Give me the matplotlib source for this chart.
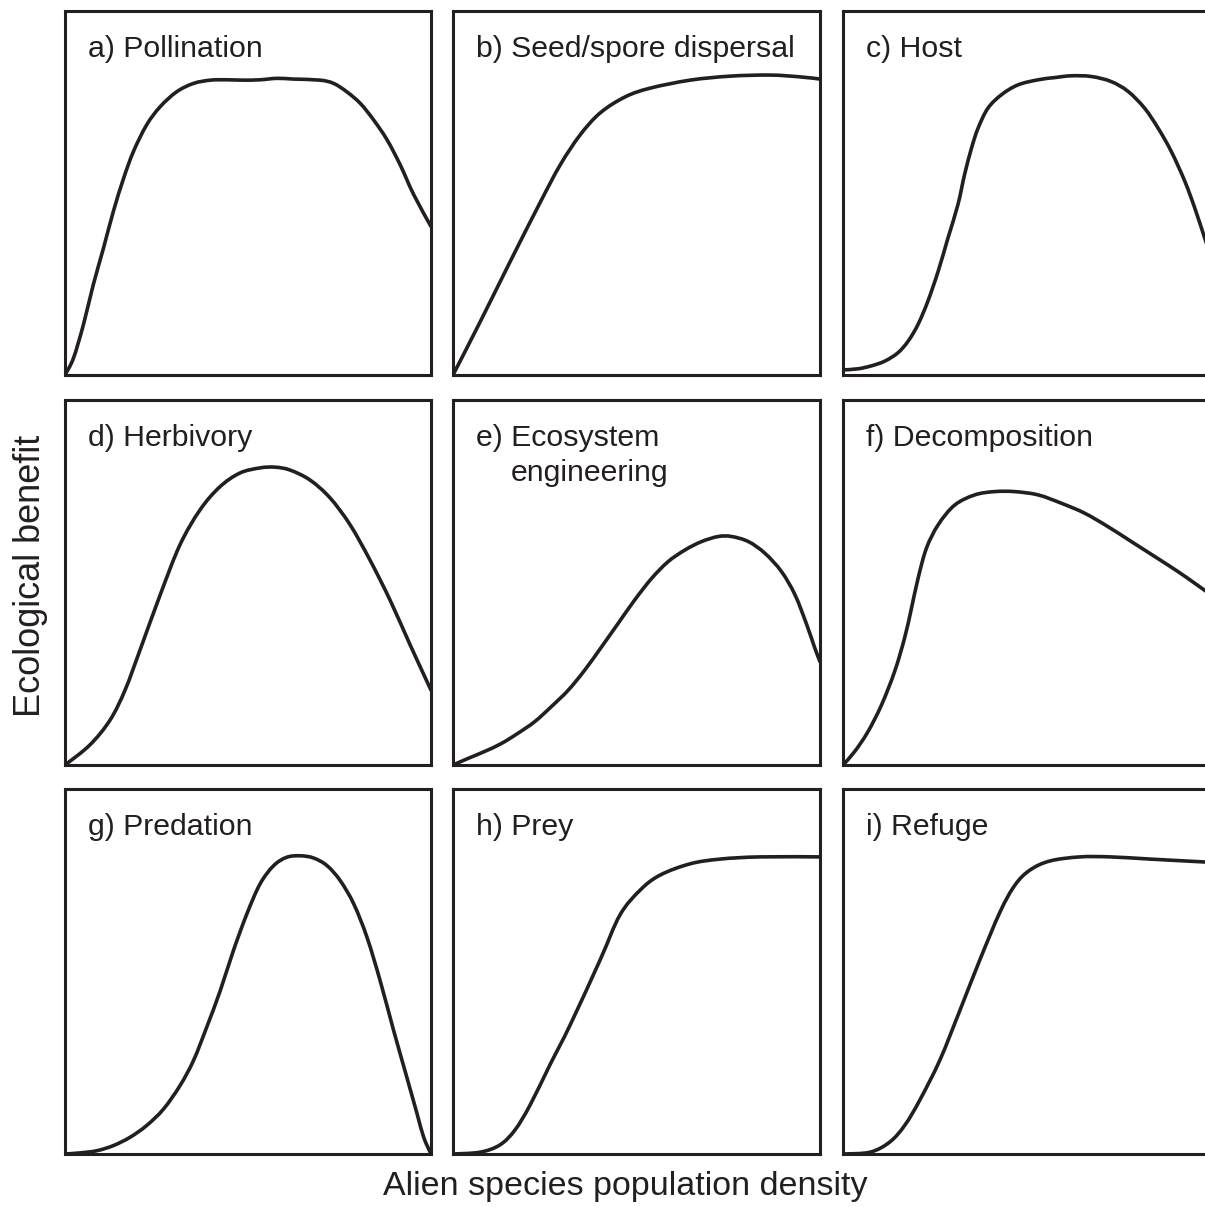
import matplotlib
matplotlib.use("Agg")
import matplotlib.pyplot as plt
from matplotlib.path import Path
from matplotlib.patches import PathPatch

plt.rcParams['font.family'] = ['Liberation Sans', 'DejaVu Sans']

INK = '#231f20'

# Panel titles (row-major order)
titles = ['a) Pollination', 'b) Seed/spore dispersal', 'c) Host',
          'd) Herbivory', 'e) Ecosystem', 'f) Decomposition',
          'g) Predation', 'h) Prey', 'i) Refuge']
subtitle_e = 'engineering'

x_label = 'Alien species population density'
y_label = 'Ecological benefit'

# Relative density (0-100) and relative benefit (0-100) for each response curve
a_x = [0, 2.3, 5.0, 7.7, 10.5, 13.2, 16.0, 18.7, 22.3, 26.0, 30.5, 35.1, 39.7, 44.2,
       48.8, 53.3, 57.9, 62.4, 69.7, 73.4, 77.0, 80.7, 84.3, 88.0, 91.6, 95.3, 100]
a_y = [0, 4.6, 13.7, 24.7, 34.8, 44.9, 54.0, 61.4, 68.7, 73.7, 77.8, 80.1, 81.0, 81.1,
       81.0, 81.1, 81.5, 81.3, 81.0, 80.1, 77.8, 74.6, 70.1, 64.6, 57.7, 49.5, 40.8]

b_x = [0, 7.4, 15.5, 23.7, 29.2, 34.6, 40.1, 46.9, 53.7, 64.6, 75.5, 86.4, 94.6, 100]
b_y = [0, 14.6, 31.0, 47.3, 57.7, 65.9, 72.0, 76.4, 78.8, 81.0, 82.1, 82.4, 81.9, 81.3]

c_x = [0, 4.1, 7.7, 11.4, 15.0, 17.8, 20.5, 23.2, 26.0, 28.7, 31.4, 33.2, 35.1, 36.9,
       39.6, 43.3, 47.8, 53.3, 57.8, 62.4, 67.9, 73.3, 77.9, 82.4, 86.1, 89.7, 93.4,
       96.1, 98.8, 100]
c_y = [1.4, 1.7, 2.5, 3.8, 6.1, 9.3, 13.9, 20.3, 28.5, 37.7, 46.8, 55.0, 62.3, 67.8,
       73.3, 77.0, 79.7, 81.1, 81.7, 82.2, 82.0, 80.6, 77.9, 73.3, 67.8, 61.4, 53.2,
       45.9, 37.7, 34.0]

d_x = [0, 6.8, 12.3, 16.4, 20.5, 26.0, 31.4, 36.9, 42.3, 47.8, 53.3, 57.4, 61.5,
       66.9, 72.4, 77.9, 83.3, 88.8, 94.3, 100]
d_y = [0, 5.5, 12.3, 20.5, 31.5, 46.6, 60.3, 69.9, 76.2, 80.0, 81.4, 81.6, 80.8,
       78.1, 73.2, 65.8, 56.2, 45.2, 32.9, 20.5]

e_x = [0, 4.1, 8.6, 13.2, 17.7, 22.3, 26.8, 31.4, 35.9, 40.5, 45.0, 49.5, 54.1, 58.6,
       63.2, 67.7, 72.3, 75.9, 80.5, 85.0, 89.5, 93.2, 96.4, 98.6, 100]
e_y = [0, 1.8, 3.7, 5.9, 8.7, 11.9, 16.0, 20.5, 26.0, 32.4, 38.8, 45.2, 51.1, 55.7,
       58.9, 61.2, 62.6, 62.6, 61.2, 58.0, 53.0, 46.6, 38.4, 32.0, 28.3]

f_x = [0, 3.2, 6.8, 10.5, 14.1, 16.8, 18.7, 20.5, 22.8, 26.0, 30.5, 36.0, 41.4, 46.9,
       53.3, 59.7, 66.0, 72.4, 78.8, 85.2, 91.5, 96.1, 100]
f_y = [0, 3.7, 9.1, 16.4, 25.6, 34.7, 42.9, 51.1, 59.4, 65.8, 71.2, 74.0, 74.9, 74.9,
       74.0, 71.7, 69.0, 65.3, 61.2, 57.1, 53.0, 49.8, 47.0]

g_x = [0, 4.1, 8.7, 13.2, 17.8, 22.3, 26.9, 31.4, 35.1, 38.7, 42.4, 46.0, 49.7, 53.3,
       57.0, 60.6, 64.3, 67.9, 71.6, 75.2, 78.9, 82.5, 86.1, 89.8, 93.4, 96.2, 98.0, 100]
g_y = [0, 0.3, 0.9, 2.3, 4.6, 7.8, 12.3, 18.7, 25.6, 34.7, 44.7, 55.7, 65.8, 74.0,
       79.0, 81.3, 81.7, 81.1, 79.0, 74.9, 68.5, 59.4, 47.5, 33.8, 21.0, 11.0, 4.6, 0]

h_x = [0, 7.4, 12.8, 16.9, 21.0, 26.4, 31.9, 40.1, 45.5, 51.0, 56.4, 64.6, 72.8, 83.7, 100]
h_y = [0, 0.5, 2.5, 6.6, 13.4, 24.4, 35.3, 53.2, 65.5, 72.3, 76.4, 79.5, 80.8, 81.4, 81.4]

i_x = [0, 7.4, 12.8, 16.9, 21.0, 26.5, 32.0, 37.4, 42.9, 47.0, 51.1, 56.6, 64.8, 73.0,
       83.9, 98.9, 100]
i_y = [0, 0.5, 3.3, 7.9, 14.8, 25.8, 39.5, 53.2, 66.3, 73.7, 77.8, 80.3, 81.4, 81.4,
       80.8, 80.0, 80.0]

curves = [(a_x, a_y), (b_x, b_y), (c_x, c_y),
          (d_x, d_y), (e_x, e_y), (f_x, f_y),
          (g_x, g_y), (h_x, h_y), (i_x, i_y)]


def smooth_path(xs, ys):
    """Cubic Bezier path passing through every point (Catmull-Rom tangents)."""
    pts = list(zip(xs, ys))
    n = len(pts)
    verts = [pts[0]]
    codes = [Path.MOVETO]
    for j in range(n - 1):
        p0 = pts[max(j - 1, 0)]
        p1 = pts[j]
        p2 = pts[j + 1]
        p3 = pts[min(j + 2, n - 1)]
        c1 = (p1[0] + (p2[0] - p0[0]) / 6, p1[1] + (p2[1] - p0[1]) / 6)
        c2 = (p2[0] - (p3[0] - p1[0]) / 6, p2[1] - (p3[1] - p1[1]) / 6)
        verts += [c1, c2, p2]
        codes += [Path.CURVE4] * 3
    return Path(verts, codes)


W, H = 1205, 1207
fig = plt.figure(figsize=(W / 100, H / 100), dpi=100)

col_left = [65, 453, 843]
col_width = [366, 367, 366]
row_top = [11, 400, 789]
row_bottom = [375, 765, 1154]

for k, ((cx, cy), title) in enumerate(zip(curves, titles)):
    r, c = divmod(k, 3)
    left = col_left[c] / W
    width = col_width[c] / W
    bottom = 1 - row_bottom[r] / H
    height = (row_bottom[r] - row_top[r]) / H
    ax = fig.add_axes([left, bottom, width, height])
    ax.add_patch(PathPatch(smooth_path(cx, cy), fill=False, edgecolor=INK,
                           lw=2.6, joinstyle='round', capstyle='round'))
    ax.set_xlim(0, 100)
    ax.set_ylim(0, 100)
    ax.set_xticks([])
    ax.set_yticks([])
    for s in ax.spines.values():
        s.set_linewidth(2.2)
        s.set_color(INK)
    ax.text(0.063, 0.874, title, transform=ax.transAxes, fontsize=21.8,
            color=INK, ha='left', va='baseline')
    if k == 4:
        ax.text(0.158, 0.778, subtitle_e, transform=ax.transAxes, fontsize=21.8,
                color=INK, ha='left', va='baseline')

fig.text(625 / W, 1 - 1186 / H, x_label, fontsize=24.5, color=INK,
         ha='center', va='center')
fig.text(31 / W, 1 - 576 / H, y_label, fontsize=26, color=INK,
         ha='center', va='center', rotation=90)

fig.savefig('out.png', dpi=100)
